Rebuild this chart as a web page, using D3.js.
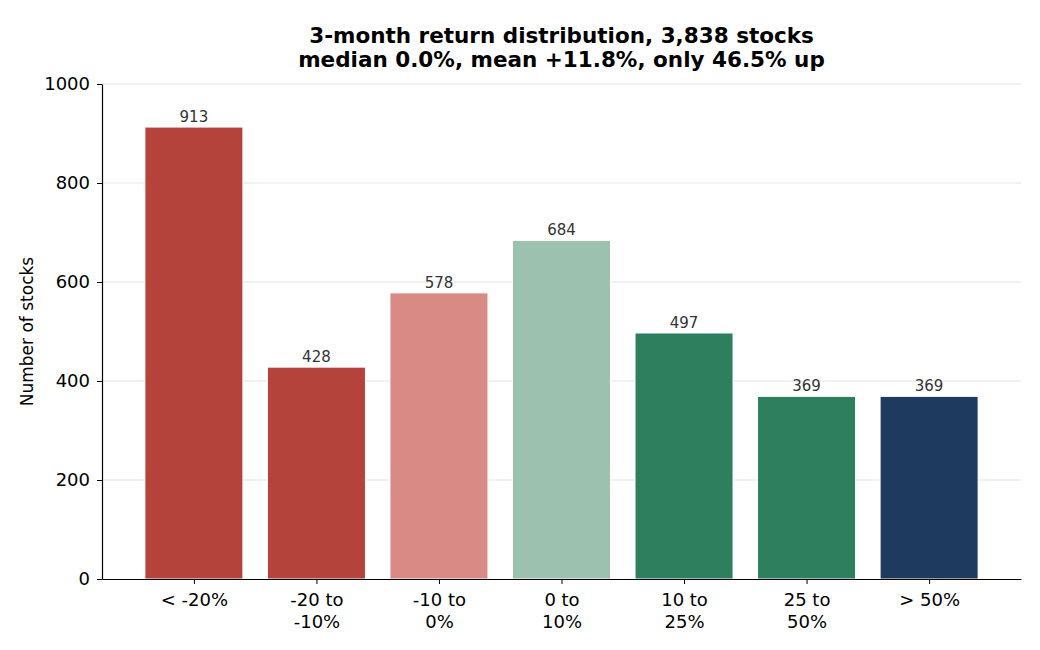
<!DOCTYPE html>
<html><head><meta charset="utf-8">
<script src="https://cdn.jsdelivr.net/npm/d3@7"></script>
<style>body{margin:0;background:#fff}svg{display:block}text{font-family:"DejaVu Sans",sans-serif}</style>
</head><body><svg id="c" width="1040" height="650"></svg>
<script>
const categories = ["< -20%", "-20 to\n-10%", "-10 to\n0%", "0 to\n10%", "10 to\n25%", "25 to\n50%", "> 50%"];
const counts = [913, 428, 578, 684, 497, 369, 369];
const colors = ["#b3433b", "#b3433b", "#da8a84", "#9dc1af", "#2e7f5e", "#2e7f5e", "#1f3a5f"];
const yTicks = [0, 200, 400, 600, 800, 1000];
const titleLines = ["3-month return distribution, 3,838 stocks", "median 0.0%, mean +11.8%, only 46.5% up"];

const svg = d3.select("#c");
const L = 102, R = 1021, T = 84, B = 579;
const idx = d3.range(categories.length);
const x = d3.scaleLinear().domain([-0.75, categories.length - 0.25]).range([L, R]);
const y = d3.scaleLinear().domain([0, 1000]).range([B, T]);
const bw = x(0.8) - x(0);

// grid
svg.append("g").selectAll("line").data(yTicks.filter(d => d > 0)).join("line")
  .attr("x1", L).attr("x2", R).attr("y1", d => y(d)).attr("y2", d => y(d))
  .attr("stroke", "#e3e3e3").attr("stroke-width", 1);

// bars
svg.append("g").selectAll("rect").data(idx).join("rect")
  .attr("x", i => x(i) - bw / 2).attr("width", bw)
  .attr("y", i => y(counts[i])).attr("height", i => y(0) - y(counts[i]))
  .attr("fill", i => colors[i]).attr("stroke", "#fff").attr("stroke-width", 1);

// value labels
svg.append("g").selectAll("text").data(idx).join("text")
  .attr("x", i => x(i)).attr("y", i => y(counts[i]) - 5)
  .attr("text-anchor", "middle").attr("font-size", 15).attr("fill", "#333")
  .text(i => counts[i]);

// y axis
const ya = svg.append("g").attr("transform", `translate(${L},0)`)
  .call(d3.axisLeft(y).tickValues(yTicks).tickSize(5).tickSizeOuter(0).tickPadding(7).tickFormat(d3.format("d")));
ya.select(".domain").attr("stroke", "#000").attr("stroke-width", 1.2);
ya.selectAll(".tick line").attr("stroke", "#000");
ya.selectAll("text").attr("font-size", 18).attr("fill", "#000").attr("font-family", "DejaVu Sans");

// x axis
const xa = svg.append("g").attr("transform", `translate(0,${B})`)
  .call(d3.axisBottom(x).tickValues(idx).tickSize(5).tickSizeOuter(0).tickFormat(""));
xa.select(".domain").attr("stroke", "#000").attr("stroke-width", 1.2);
xa.selectAll(".tick line").attr("stroke", "#000");
xa.selectAll(".tick").each(function(d) {
  const lines = categories[d].split("\n");
  const t = d3.select(this).append("text").attr("text-anchor", "middle").attr("fill", "#000")
    .attr("font-size", 18).attr("font-family", "DejaVu Sans");
  lines.forEach((ln, k) => t.append("tspan").attr("x", 0).attr("y", 27 + k * 21.5).text(ln));
});

// y label
svg.append("text").attr("transform", `translate(33,${(T + B) / 2}) rotate(-90)`)
  .attr("text-anchor", "middle").attr("font-size", 17).attr("fill", "#000").text("Number of stocks");

// title
titleLines.forEach((t, k) => svg.append("text").attr("x", (L + R) / 2).attr("y", 43 + k * 23.5)
  .attr("text-anchor", "middle").attr("font-size", 21.5).attr("font-weight", "bold").attr("fill", "#000").text(t));
</script></body></html>
